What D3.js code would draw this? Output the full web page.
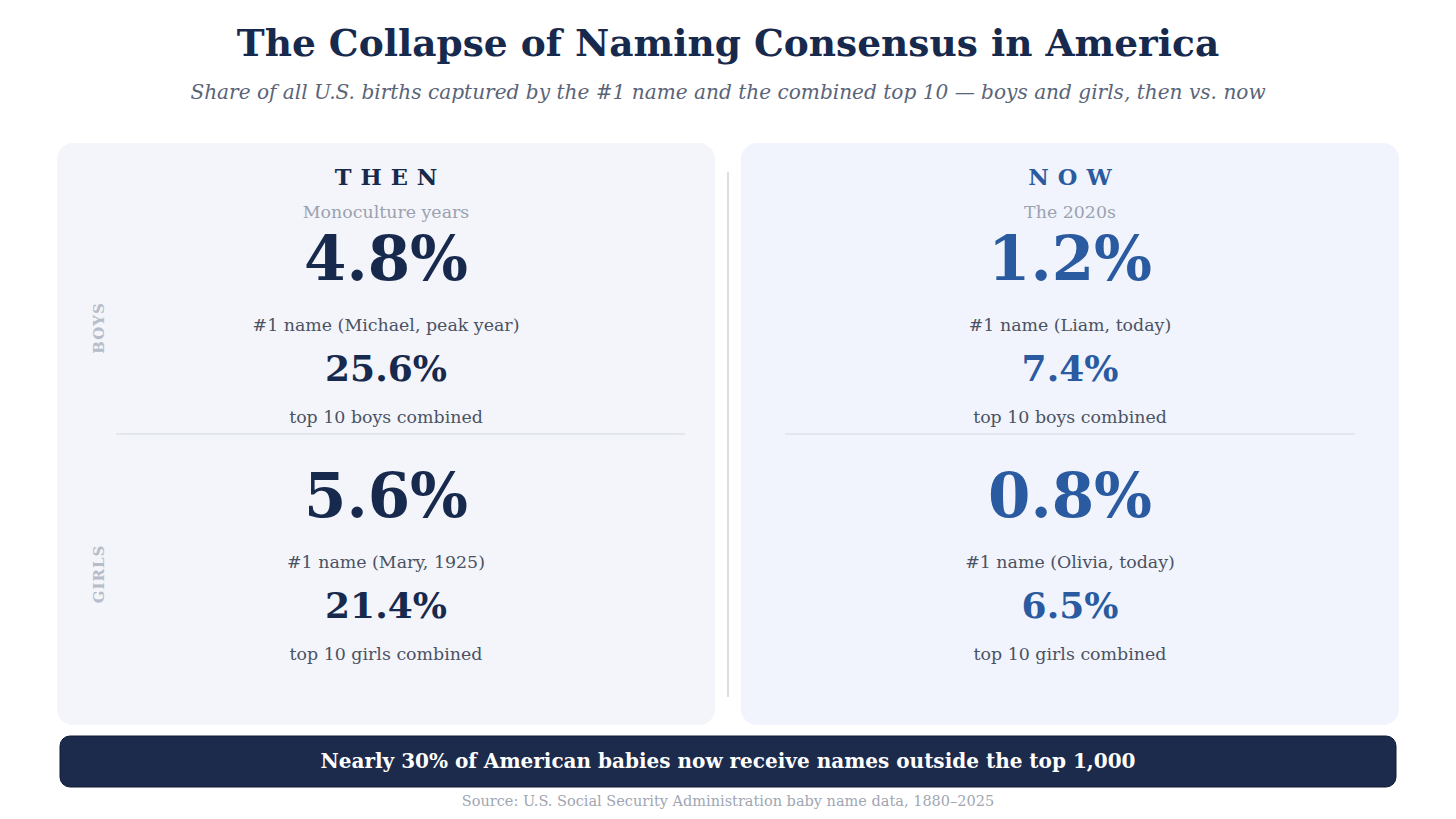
<!DOCTYPE html>
<html>
<head>
<meta charset="utf-8">
<script src="https://cdn.jsdelivr.net/npm/d3@7"></script>
<style>
  html, body { margin: 0; padding: 0; background: #ffffff; }
  svg { display: block; }
</style>
</head>
<body>
<svg id="chart" width="1456" height="819"></svg>
<script>
// ---------- data ----------
const periods = ["THEN", "NOW"];
const periodSubtitles = ["Monoculture years", "The 2020s"];
const boysTop1 = [4.8, 1.2];
const boysTop10 = [25.6, 7.4];
const girlsTop1 = [5.6, 0.8];
const girlsTop10 = [21.4, 6.5];
const boysTop1Labels = ["#1 name (Michael, peak year)", "#1 name (Liam, today)"];
const girlsTop1Labels = ["#1 name (Mary, 1925)", "#1 name (Olivia, today)"];
const boysTop10Label = "top 10 boys combined";
const girlsTop10Label = "top 10 girls combined";
const sexes = ["BOYS", "GIRLS"];
const titleText = "The Collapse of Naming Consensus in America";
const subtitleText = "Share of all U.S. births captured by the #1 name and the combined top 10 \u2014 boys and girls, then vs. now";
const bannerText = "Nearly 30% of American babies now receive names outside the top 1,000";
const sourceText = "Source: U.S. Social Security Administration baby name data, 1880\u20132025";

// ---------- layout ----------
const W = 1456, H = 819;
const serif = "'DejaVu Serif', serif";
const navy = "#172a4d";
const blue = "#2a5aa0";
const svg = d3.select("#chart");

const gap = 26;
const panelW = (1399 - 57 - gap) / 2;
const panelX = d => 57 + periods.indexOf(d) * (panelW + gap);
const cx = d => panelX(d) + panelW / 2;
const panelFill = ["#f4f5fa", "#f1f4fc"];
const accent = [navy, blue];
const sepInset = [[59, 30], [44, 44]];

const fmt = v => d3.format(".1f")(v) + "%";

// title
svg.append("text").attr("x", W / 2).attr("y", 56).attr("text-anchor", "middle")
  .attr("font-family", serif).attr("font-weight", "bold").attr("font-size", 37.5)
  .attr("fill", navy).text(titleText);
svg.append("text").attr("x", W / 2).attr("y", 99).attr("text-anchor", "middle")
  .attr("font-family", serif).attr("font-style", "italic").attr("font-size", 20.1)
  .attr("fill", "#5a6478").text(subtitleText);

// panels
const panels = svg.selectAll("g.panel").data(periods).join("g").attr("class", "panel");
panels.append("rect")
  .attr("x", d => panelX(d)).attr("y", 143).attr("width", panelW).attr("height", 582)
  .attr("rx", 16).attr("fill", (d, i) => panelFill[i]);

// divider
svg.append("line").attr("x1", W / 2).attr("x2", W / 2).attr("y1", 172).attr("y2", 697)
  .attr("stroke", "#cfd3da").attr("stroke-width", 1.5);

// headers
panels.append("text").attr("x", d => cx(d) + 4.5).attr("y", 185).attr("text-anchor", "middle")
  .attr("font-family", serif).attr("font-weight", "bold").attr("font-size", 22.5)
  .attr("letter-spacing", 9).attr("fill", (d, i) => accent[i]).text(d => d);
panels.append("text").attr("x", d => cx(d)).attr("y", 218).attr("text-anchor", "middle")
  .attr("font-family", serif).attr("font-size", 17.4)
  .attr("fill", "#9aa1b0").text((d, i) => periodSubtitles[i]);

// separators inside panels
panels.append("line").attr("x1", (d, i) => panelX(d) + sepInset[i][0]).attr("x2", (d, i) => panelX(d) + panelW - sepInset[i][1])
  .attr("y1", 434).attr("y2", 434).attr("stroke", "#dde2ea").attr("stroke-width", 1.5);

function block(values, labels, values10, label10, yBig) {
  panels.append("text").attr("x", d => cx(d)).attr("y", yBig).attr("text-anchor", "middle")
    .attr("font-family", serif).attr("font-weight", "bold").attr("font-size", 61)
    .attr("fill", (d, i) => accent[i]).text((d, i) => fmt(values[i]));
  panels.append("text").attr("x", d => cx(d)).attr("y", yBig + 51).attr("text-anchor", "middle")
    .attr("font-family", serif).attr("font-size", 17.4)
    .attr("fill", "#4a5263").text((d, i) => labels[i]);
  panels.append("text").attr("x", d => cx(d)).attr("y", yBig + 101).attr("text-anchor", "middle")
    .attr("font-family", serif).attr("font-weight", "bold").attr("font-size", 36)
    .attr("fill", (d, i) => accent[i]).text((d, i) => fmt(values10[i]));
  panels.append("text").attr("x", d => cx(d)).attr("y", yBig + 143).attr("text-anchor", "middle")
    .attr("font-family", serif).attr("font-size", 17.4)
    .attr("fill", "#4a5263").text(label10);
}
block(boysTop1, boysTop1Labels, boysTop10, boysTop10Label, 280);
block(girlsTop1, girlsTop1Labels, girlsTop10, girlsTop10Label, 517);

// side labels
const sideY = [328, 574];
svg.selectAll("text.side").data(sexes).join("text").attr("class", "side")
  .attr("transform", (d, i) => `translate(104,${sideY[i]}) rotate(-90)`)
  .attr("text-anchor", "middle").attr("font-family", serif).attr("font-weight", "bold")
  .attr("font-size", 15).attr("letter-spacing", 1).attr("fill", "#b6bdc9").text(d => d);

// banner
svg.append("rect").attr("x", 60).attr("y", 736).attr("width", 1336).attr("height", 51)
  .attr("rx", 10).attr("fill", "#1c2a4b").attr("stroke", "#0f1a33").attr("stroke-width", 1);
svg.append("text").attr("x", W / 2).attr("y", 768).attr("text-anchor", "middle")
  .attr("font-family", serif).attr("font-weight", "bold").attr("font-size", 20)
  .attr("fill", "#ffffff").text(bannerText);
svg.append("text").attr("x", W / 2).attr("y", 806).attr("text-anchor", "middle")
  .attr("font-family", serif).attr("font-size", 14.5)
  .attr("fill", "#a0a6b2").text(sourceText);
</script>
</body>
</html>
